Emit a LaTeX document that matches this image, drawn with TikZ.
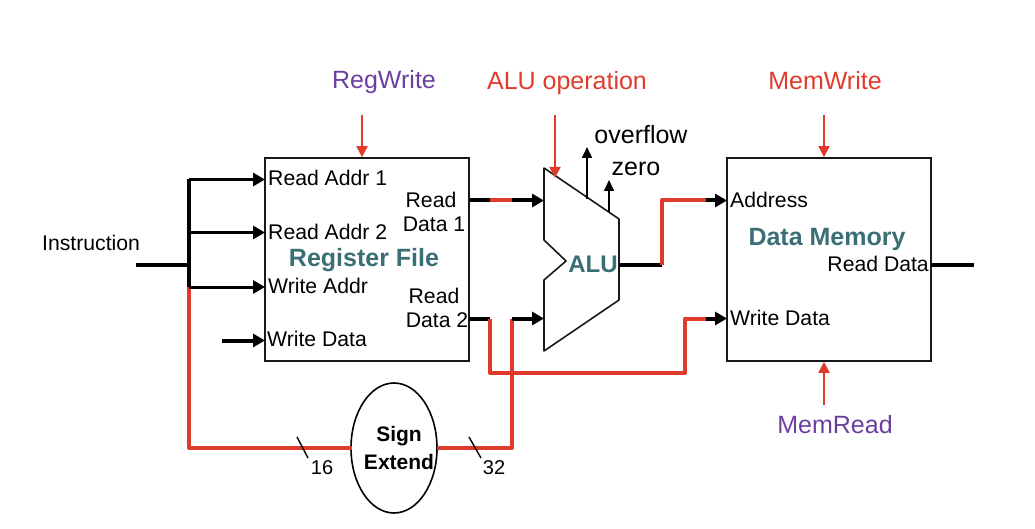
\documentclass[tikz,border=0pt]{standalone}
\usepackage{fontspec}
\setmainfont{Liberation Sans}
\usetikzlibrary{arrows.meta,shapes.geometric}
\definecolor{wirered}{HTML}{E03A2B}
\definecolor{ctrlpurple}{HTML}{6B3FA0}
\definecolor{blockteal}{HTML}{3A6F76}
\tikzset{
    portlabel/.style={inner sep=0pt, font=\fontsize{21.2}{24}\selectfont, align=center},
    blocklabel/.style={inner sep=0pt, text=blockteal, font=\fontsize{25}{30}\selectfont\bfseries},
    ctrllabel/.style={inner sep=0pt, font=\fontsize{25}{30}\selectfont},
    blockbox/.style={draw=black!90, line width=1.6pt, minimum width=204pt, minimum height=203pt, inner sep=0pt},
    wire/.style={line width=4pt, black},
    redwire/.style={line width=4pt, wirered, line join=round},
    wirearrow/.style={wire, -{Triangle[length=12pt,width=13pt]}},
    ctrlarrow/.style={line width=1.8pt, wirered, -{Triangle[length=11pt,width=11pt]}},
    flagarrow/.style={line width=1.6pt, black, -{Triangle[length=11pt,width=10pt]}},
    tick/.style={line width=1.4pt, black}
}
\begin{document}
\begin{tikzpicture}[x=1pt, y=-1pt]
    \useasboundingbox (0,0) rectangle (1035,529);
    % blocks
    \node[blockbox](regfile) at (367,259.5) {};
    \node[blockbox](datamem) at (829,259.5) {};
    \node[ellipse, draw=black, line width=1.6pt, fill=white, minimum width=86pt, minimum height=130pt, inner sep=0pt](signext) at (394,448) {};
    \draw[line width=1.6pt, black!90, line join=round] (544,168) -- (619,219) -- (619,300) -- (544,351) -- (544,280) -- (566,261) -- (544,240) -- cycle;
    % junctions and port points
    \coordinate (instin) at (136,265);
    \coordinate (bus) at (189,265);
    \coordinate (bustop) at (189,179.5);
    \coordinate (busmid) at (189,232.5);
    \coordinate (busbot) at (189,287);
    \coordinate (busend) at (189,447.5);
    \coordinate (ra1) at (265,179.5);
    \coordinate (ra2) at (265,232.5);
    \coordinate (wa) at (265,287);
    \coordinate (wdstart) at (222,340.5);
    \coordinate (wd) at (265,340.5);
    \coordinate (rd1) at (469,200.5);
    \coordinate (rd1a) at (490,200.5);
    \coordinate (rd1b) at (512,200.5);
    \coordinate (alua) at (544,200.5);
    \coordinate (rd2) at (469,318.5);
    \coordinate (rd2a) at (490,318.5);
    \coordinate (rd2b) at (490,372.5);
    \coordinate (rd2c) at (685,372.5);
    \coordinate (rd2d) at (685,318.5);
    \coordinate (rd2e) at (706,318.5);
    \coordinate (memwd) at (727,318.5);
    \coordinate (sxa) at (352,447.5);
    \coordinate (sxb) at (437,447.5);
    \coordinate (sxc) at (512,447.5);
    \coordinate (sxd) at (512,318.5);
    \coordinate (alub) at (544,318.5);
    \coordinate (aluout) at (619,264.5);
    \coordinate (outa) at (662,264.5);
    \coordinate (outb) at (662,200.5);
    \coordinate (outc) at (706,200.5);
    \coordinate (memaddr) at (727,200.5);
    \coordinate (memout) at (931,265);
    \coordinate (memend) at (974,265);
    % black and red wires
    \draw[wire] (instin) -- (bus);
    \draw[wire, line width=4.4pt] (bustop) -- (busbot);
    \draw[redwire] (busbot) -- (busend) -- (sxa);
    \draw[redwire] (sxb) -- (sxc) -- (sxd);
    \draw[wirearrow, line width=3pt] (bustop) -- (ra1);
    \draw[wirearrow, line width=3pt] (busmid) -- (ra2);
    \draw[wirearrow, line width=3pt] (busbot) -- (wa);
    \draw[wirearrow] (wdstart) -- (wd);
    \draw[wire] (rd1) -- (rd1a);
    \draw[redwire] (rd1a) -- (rd1b);
    \draw[wirearrow] (rd1b) -- (alua);
    \draw[wire] (rd2) -- (rd2a);
    \draw[redwire] (rd2a) -- (rd2b) -- (rd2c) -- (rd2d) -- (rd2e);
    \draw[wirearrow] (rd2e) -- (memwd);
    \draw[wirearrow] (sxd) -- (alub);
    \draw[wire] (aluout) -- (outa);
    \draw[redwire] (outa) -- (outb) -- (outc);
    \draw[wirearrow] (outc) -- (memaddr);
    \draw[wire] (memout) -- (memend);
    % control lines
    \coordinate (regw) at (362,115);
    \coordinate (aluop) at (555,115);
    \coordinate (aluopend) at (555,178);
    \coordinate (memw) at (824,115);
    \coordinate (memr) at (824,405);
    \coordinate (ovfa) at (587,199);
    \coordinate (ovfb) at (587,147);
    \coordinate (zeroa) at (609,212);
    \coordinate (zerob) at (609,180);
    \draw[ctrlarrow] (regw) -- (regw |- regfile.north);
    \draw[ctrlarrow] (aluop) -- (aluopend);
    \draw[ctrlarrow] (memw) -- (memw |- datamem.north);
    \draw[ctrlarrow] (memr) -- (memr |- datamem.south);
    \draw[flagarrow] (ovfa) -- (ovfb);
    \draw[flagarrow] (zeroa) -- (zerob);
    % bus width ticks
    \coordinate (tickaa) at (297,437);
    \coordinate (tickab) at (308,458);
    \coordinate (tickba) at (469,437);
    \coordinate (tickbb) at (481,458);
    \draw[tick] (tickaa) -- (tickab);
    \draw[tick] (tickba) -- (tickbb);
    % labels
    \node[portlabel, anchor=west](lblinst) at (42,243) {Instruction};
    \node[portlabel, anchor=west](lblra1) at (268,178) {Read Addr 1};
    \node[portlabel, anchor=west](lblra2) at (268,232) {Read Addr 2};
    \node[portlabel, anchor=west](lblwa) at (268,286) {Write Addr};
    \node[portlabel, anchor=west](lblwd) at (267,339) {Write Data};
    \node[portlabel](lblrd1) at (434,212) {Read\kern6pt\\Data 1};
    \node[portlabel](lblrd2) at (437,308) {Read\kern6pt\\Data 2};
    \node[blocklabel](lblrf) at (364,260) {Register File};
    \node[blocklabel, font=\fontsize{24}{28}\selectfont\bfseries](lblalu) at (593,264) {ALU};
    \node[blocklabel](lbldm) at (827,239) {Data Memory};
    \node[portlabel, anchor=west](lbladdr) at (730,200) {Address};
    \node[portlabel, anchor=east](lblrdm) at (929,264) {Read Data};
    \node[portlabel, anchor=west](lblwdm) at (730,318) {Write Data};
    \node[ctrllabel, text=ctrlpurple](lblregw) at (384,82.5) {RegWrite};
    \node[ctrllabel, text=wirered](lblaluop) at (567,83) {ALU operation};
    \node[ctrllabel, text=wirered](lblmemw) at (825,81) {MemWrite};
    \node[ctrllabel, text=ctrlpurple](lblmemr) at (835,424.5) {MemRead};
    \node[ctrllabel](lblovf) at (641,135) {overflow};
    \node[ctrllabel](lblzero) at (636,168.5) {zero};
    \node[portlabel, font=\fontsize{21}{28}\selectfont\bfseries](lblsx) at (399,448) {Sign\\Extend};
    \node[portlabel, font=\fontsize{20}{24}\selectfont](lbl16) at (322,468) {16};
    \node[portlabel, font=\fontsize{20}{24}\selectfont](lbl32) at (494,468) {32};
\end{tikzpicture}
\end{document}
